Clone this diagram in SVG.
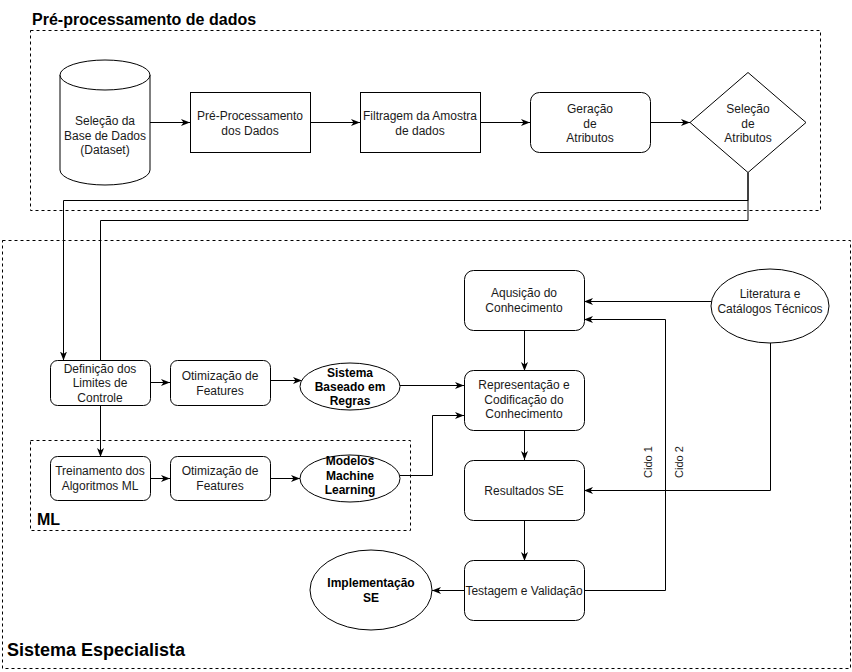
<svg xmlns="http://www.w3.org/2000/svg" width="852" height="672" viewBox="0 0 852 672">
<defs>
<marker id="arr" markerUnits="userSpaceOnUse" markerWidth="10" markerHeight="8" refX="9" refY="3.5" orient="auto">
<path d="M0,0 L9,3.5 L0,7 L2.5,3.5 Z" fill="#000"/>
</marker>
</defs>
<style>
.n{fill:#fff;stroke:#000;stroke-width:1}
.t{font-family:"Liberation Sans",Arial,sans-serif;font-size:12px;fill:#1a1a1a;text-anchor:middle}
.b{font-weight:bold;fill:#000}
.h{font-family:"Liberation Sans",Arial,sans-serif;font-size:16px;font-weight:bold;fill:#000}
.f{fill:none;stroke:#000;stroke-width:1;stroke-dasharray:3,3}
.c{fill:none;stroke:#000;stroke-width:1}
.a{marker-end:url(#arr)}
</style>
<rect width="852" height="672" fill="#fff"/>

<g id="frames">
<rect class="f" x="30.5" y="30.5" width="790" height="180"/>
<text class="h" x="32" y="25">Pré-processamento de dados</text>
<rect class="f" x="2.5" y="240.5" width="848" height="428"/>
<text class="h" x="7" y="656" style="font-size:18px">Sistema Especialista</text>
<rect class="f" x="30.5" y="440.5" width="380" height="90"/>
<text class="h" x="37" y="525">ML</text>
</g>

<g id="connectors">
<path class="c a" d="M150,122.5 H190"/>
<path class="c a" d="M310,122.5 H360"/>
<path class="c a" d="M480,122.5 H530"/>
<path class="c a" d="M650,122.5 H690"/>
<path class="c a" d="M748,172.5 V200.5 H63.5 V360.5"/>
<path class="c" d="M748,172.5 V220.5 H100.5 V360.5"/>
<path class="c a" d="M150,382.5 H170"/>
<path class="c a" d="M270,380.5 H302"/>
<path class="c a" d="M400,385.5 H464"/>
<path class="c a" d="M100.5,405 V457"/>
<path class="c a" d="M150,478.5 H170"/>
<path class="c a" d="M270,478.5 H300"/>
<path class="c a" d="M400,475.5 H432.5 V415.5 H464"/>
<path class="c a" d="M712,301.5 H584"/>
<path class="c a" d="M584,590.5 H665.5 V319.5 H584"/>
<path class="c a" d="M770.5,342 V490.5 H584"/>
<path class="c a" d="M524.5,330 V371"/>
<path class="c a" d="M524.5,430 V460"/>
<path class="c a" d="M524.5,520 V561"/>
<path class="c a" d="M464,590.5 H432"/>
<text class="t" style="font-size:11px" transform="translate(652,462) rotate(-90)">Cido 1</text>
<text class="t" style="font-size:11px" transform="translate(683,462) rotate(-90)">Cido 2</text>
</g>

<g id="selecao-base">
<path class="n" d="M60,75 V170 A45,15 0 0 0 150,170 V75"/>
<ellipse class="n" cx="105" cy="75" rx="45" ry="15"/>
<text class="t" x="105" y="125">Seleção da</text>
<text class="t" x="105" y="139.5">Base de Dados</text>
<text class="t" x="105" y="154">(Dataset)</text>
</g>

<g id="pre-processamento">
<rect class="n" x="190.5" y="92.5" width="120" height="60"/>
<text class="t" x="250" y="120">Pré-Processamento</text>
<text class="t" x="250" y="134.5">dos Dados</text>
</g>

<g id="filtragem">
<rect class="n" x="360.5" y="92.5" width="120" height="60"/>
<text class="t" x="420" y="120">Filtragem da Amostra</text>
<text class="t" x="420" y="134.5">de dados</text>
</g>

<g id="geracao">
<rect class="n" x="530.5" y="92.5" width="120" height="60" rx="9"/>
<text class="t" x="590" y="113">Geração</text>
<text class="t" x="590" y="127.5">de</text>
<text class="t" x="590" y="142">Atributos</text>
</g>

<g id="selecao-atributos">
<polygon class="n" points="748,72.5 806,122.5 748,172.5 690,122.5"/>
<text class="t" x="748" y="113">Seleção</text>
<text class="t" x="748" y="127.5">de</text>
<text class="t" x="748" y="142">Atributos</text>
</g>

<g id="definicao">
<rect class="n" x="50.5" y="360.5" width="100" height="45" rx="7"/>
<text class="t" x="100" y="372.5">Definição dos</text>
<text class="t" x="100" y="387">Limites de</text>
<text class="t" x="100" y="401.5">Controle</text>
</g>

<g id="otimizacao-1">
<rect class="n" x="170.5" y="360.5" width="100" height="45" rx="7"/>
<text class="t" x="220" y="380">Otimização de</text>
<text class="t" x="220" y="394.5">Features</text>
</g>

<g id="sistema-regras">
<ellipse class="n" cx="350" cy="386.5" rx="50" ry="23.5"/>
<text class="t b" x="350" y="376.5">Sistema</text>
<text class="t b" x="350" y="390.5">Baseado em</text>
<text class="t b" x="350" y="404.5">Regras</text>
</g>

<g id="treinamento">
<rect class="n" x="50.5" y="456.5" width="100" height="44" rx="7"/>
<text class="t" x="100" y="475">Treinamento dos</text>
<text class="t" x="100" y="489.5">Algoritmos ML</text>
</g>

<g id="otimizacao-2">
<rect class="n" x="170.5" y="456.5" width="100" height="44" rx="7"/>
<text class="t" x="220" y="475">Otimização de</text>
<text class="t" x="220" y="489.5">Features</text>
</g>

<g id="modelos-ml">
<ellipse class="n" cx="350" cy="478.5" rx="50" ry="23.5"/>
<text class="t b" x="350" y="465">Modelos</text>
<text class="t b" x="350" y="479.5">Machine</text>
<text class="t b" x="350" y="494">Learning</text>
</g>

<g id="aquisicao">
<rect class="n" x="464.5" y="270.5" width="120" height="60" rx="9"/>
<text class="t" x="524" y="297">Aqusição do</text>
<text class="t" x="524" y="311.5">Conhecimento</text>
</g>

<g id="literatura">
<ellipse class="n" cx="770" cy="306" rx="59" ry="37"/>
<text class="t" x="770" y="298">Literatura e</text>
<text class="t" x="770" y="313">Catálogos Técnicos</text>
</g>

<g id="representacao">
<rect class="n" x="464.5" y="370.5" width="120" height="60" rx="9"/>
<text class="t" x="524" y="389">Representação e</text>
<text class="t" x="524" y="403.5">Codificação do</text>
<text class="t" x="524" y="418">Conhecimento</text>
</g>

<g id="resultados">
<rect class="n" x="464.5" y="460.5" width="120" height="60" rx="9"/>
<text class="t" x="524" y="494.5">Resultados SE</text>
</g>

<g id="testagem">
<rect class="n" x="464.5" y="560.5" width="120" height="60" rx="9"/>
<text class="t" x="524" y="594.5">Testagem e Validação</text>
</g>

<g id="implementacao">
<ellipse class="n" cx="371" cy="590" rx="61" ry="40"/>
<text class="t b" x="371" y="587">Implementação</text>
<text class="t b" x="371" y="602">SE</text>
</g>
</svg>
